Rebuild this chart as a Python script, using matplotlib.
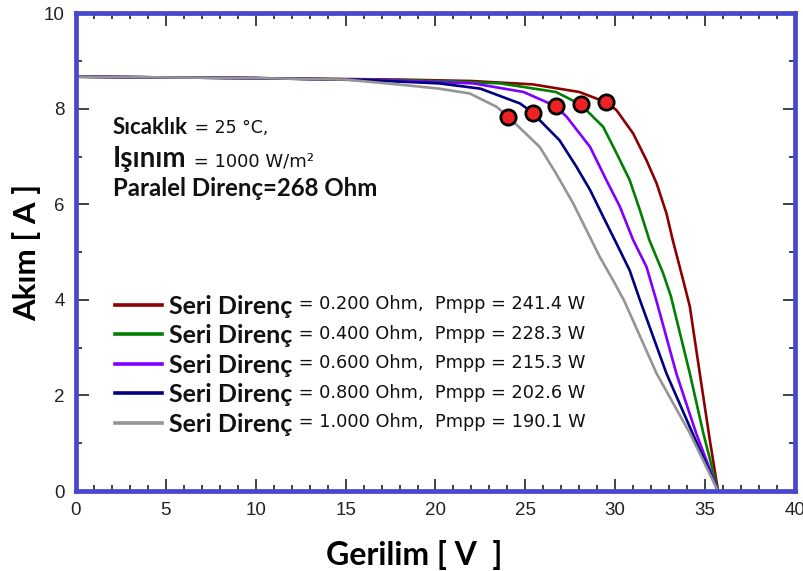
import matplotlib
matplotlib.use("Agg")
import matplotlib.pyplot as plt
from matplotlib.ticker import MultipleLocator

# I-V curves (volts, amps)
v_02 = [0, 10, 18, 22, 25.4, 28.0, 29.46, 30.07, 31.0, 31.74, 32.3, 32.85, 33.2, 33.78, 34.15, 34.7, 35.26, 35.72]
i_02 = [8.67, 8.64, 8.61, 8.58, 8.51, 8.35, 8.14, 7.97, 7.48, 6.92, 6.44, 5.81, 5.25, 4.41, 3.86, 2.47, 1.07, 0.0]

v_04 = [0, 10, 18, 21, 23.6, 26.7, 28.07, 29.33, 30.07, 30.8, 31.37, 31.9, 32.67, 33.1, 34.15, 34.9, 35.72]
i_04 = [8.67, 8.64, 8.6, 8.57, 8.53, 8.35, 8.09, 7.62, 7.07, 6.51, 5.88, 5.25, 4.55, 4.07, 2.46, 1.21, 0.0]

v_06 = [0, 10, 17, 22.1, 24.9, 26.7, 27.3, 28.6, 29.5, 30.26, 31.0, 31.74, 32.3, 33.4, 34.5, 35.72]
i_06 = [8.67, 8.64, 8.6, 8.53, 8.35, 8.05, 7.83, 7.2, 6.51, 5.95, 5.25, 4.69, 3.97, 2.46, 1.21, 0.0]

v_08 = [0, 10, 16, 20.2, 22.5, 24.7, 25.4, 25.8, 26.9, 27.85, 28.6, 29.33, 30.07, 30.8, 31.37, 32.85, 34.3, 35.72]
i_08 = [8.67, 8.64, 8.6, 8.53, 8.42, 8.11, 7.92, 7.76, 7.34, 6.78, 6.30, 5.74, 5.18, 4.62, 4.0, 2.46, 1.21, 0.0]

v_10 = [0, 10, 15, 18.4, 20.2, 21.9, 23.4, 24.05, 25.8, 26.7, 27.66, 28.4, 29.14, 29.88, 30.5, 32.3, 34.15, 35.72]
i_10 = [8.67, 8.64, 8.61, 8.49, 8.42, 8.32, 8.04, 7.83, 7.2, 6.65, 6.02, 5.46, 4.90, 4.41, 3.98, 2.46, 1.21, 0.0]

# maximum power points
mpp_v = [29.46, 28.07, 26.7, 25.4, 24.05]
mpp_i = [8.14, 8.09, 8.05, 7.92, 7.83]

rs_labels = ["0.200", "0.400", "0.600", "0.800", "1.000"]
pmpp_labels = ["241.4", "228.3", "215.3", "202.6", "190.1"]
colors = ["#8b0000", "#008000", "#8000ff", "#000080", "#959595"]

curves = [(v_02, i_02), (v_04, i_04), (v_06, i_06), (v_08, i_08), (v_10, i_10)]

fig = plt.figure(figsize=(8.04, 5.71), dpi=100)
ax = fig.add_axes([0.0945, 0.140, 0.8943, 0.837])

lines = []
for (v, i), c in zip(curves, colors):
    ln, = ax.plot(v, i, color=c, lw=1.9)
    lines.append(ln)

ax.plot(mpp_v, mpp_i, 'o', ls='none', color='#ee2222', mec='black',
        mew=2, ms=11, zorder=5)

ax.set_xlim(0, 40)
ax.set_ylim(0, 10)
ax.xaxis.set_major_locator(MultipleLocator(5))
ax.xaxis.set_minor_locator(MultipleLocator(1))
ax.yaxis.set_major_locator(MultipleLocator(2))
ax.yaxis.set_minor_locator(MultipleLocator(1))
ax.tick_params(which='both', direction='in', top=True, right=True,
               color='#333333', width=1.3)
ax.tick_params(which='major', length=9, pad=8)
ax.tick_params(which='minor', length=4.5)
for lab in ax.get_xticklabels() + ax.get_yticklabels():
    lab.set_family(['Liberation Sans Narrow', 'Liberation Sans'])
    lab.set_fontsize(13.5)
    lab.set_color('#222222')

for sp in ax.spines.values():
    sp.set_color('#4747cf')
    sp.set_linewidth(3.4)

ax.set_xlabel("Gerilim [ V  ]", family='Lato', fontweight='bold', fontsize=23,
              labelpad=15)
ax.xaxis.label.set_x(0.471)
ax.set_ylabel("Akım [ A ]", family='Lato', fontweight='bold', fontsize=22.5,
              labelpad=2)

# condition texts (bold name + regular value)
def two_part(x, y, bold, rest, bsize, rsize):
    t = ax.text(x, y, bold, transform=ax.transAxes, family='Lato',
                fontweight='bold', fontsize=bsize, va='baseline', color='#111111')
    ax.annotate(rest, xy=(1, 0.05), xycoords=t, xytext=(1, 0),
                textcoords='offset points', va='bottom', family='DejaVu Sans',
                fontsize=rsize, color='#111111')
    return t

two_part(0.0515, 0.747, "Sıcaklık", " = 25 °C,", 16, 12.5)
two_part(0.0515, 0.679, "Işınım", " = 1000 W/m²", 20, 13)
ax.text(0.0515, 0.617, "Paralel Direnç=268 Ohm", transform=ax.transAxes,
        family='Lato', fontweight='bold', fontsize=17.3, va='baseline',
        color='#111111')

leg = ax.legend(lines, ["Seri Direnç"] * 5, loc='upper left',
                bbox_to_anchor=(0.054, 0.411), frameon=False,
                prop={'family': 'Lato', 'weight': 'bold', 'size': 18},
                handlelength=1.9, handletextpad=0.25, labelspacing=0.26,
                borderpad=0, borderaxespad=0)
for ln in leg.get_lines():
    ln.set_linewidth(2.6)
for txt, rs, pm in zip(leg.get_texts(), rs_labels, pmpp_labels):
    txt.set_color('#111111')
    ax.annotate(f" = {rs} Ohm,  Pmpp = {pm} W", xy=(1, 0.2), xycoords=txt,
                xytext=(1, 0), textcoords='offset points', va='bottom',
                family='DejaVu Sans', fontsize=12.8, color='#111111', zorder=10)

fig.savefig("out.png", dpi=100)
